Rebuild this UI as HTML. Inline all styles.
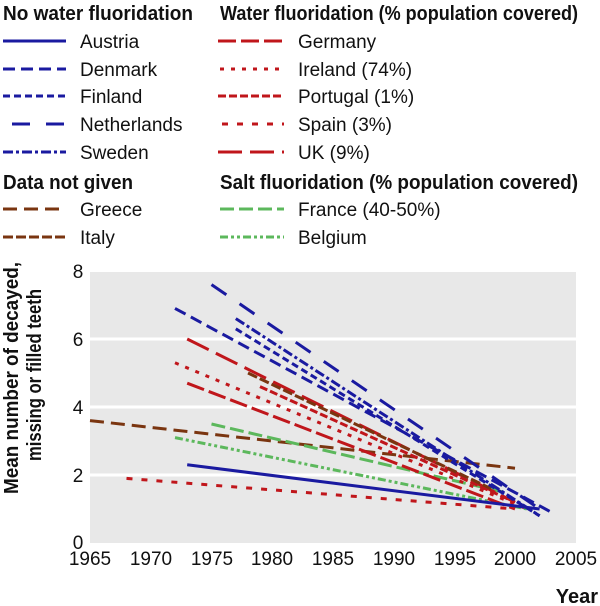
<!DOCTYPE html>
<html><head><meta charset="utf-8"><style>
html,body{margin:0;padding:0;background:#fff;}
svg{display:block;}
text{font-family:"Liberation Sans",sans-serif;fill:#111;}
.h{font-weight:bold;font-size:20px;}
.l{font-size:19px;}
.t{font-size:19px;}
</style></head><body>
<svg width="600" height="606" viewBox="0 0 600 606" xmlns="http://www.w3.org/2000/svg">
<g fill="none" stroke-width="3">
<line x1="3" y1="41" x2="66" y2="41" stroke="#1a1aa0"/>
<line x1="3" y1="69" x2="66" y2="69" stroke="#1a1aa0" stroke-dasharray="12,6"/>
<line x1="3" y1="96" x2="66" y2="96" stroke="#1a1aa0" stroke-dasharray="7,4"/>
<line x1="12" y1="124" x2="66" y2="124" stroke="#1a1aa0" stroke-dasharray="18,16"/>
<line x1="3" y1="152" x2="66" y2="152" stroke="#1a1aa0" stroke-dasharray="10,3,3,3"/>
<line x1="3" y1="209" x2="66" y2="209" stroke="#7a3510" stroke-dasharray="14,7"/>
<line x1="3" y1="237" x2="66" y2="237" stroke="#7a3510" stroke-dasharray="10,3"/>
<line x1="218" y1="41" x2="284" y2="41" stroke="#c0161b" stroke-dasharray="18,5"/>
<line x1="220" y1="69" x2="284" y2="69" stroke="#c0161b" stroke-dasharray="4,7"/>
<line x1="218" y1="96" x2="284" y2="96" stroke="#c0161b" stroke-dasharray="8,3"/>
<line x1="222" y1="124" x2="284" y2="124" stroke="#c0161b" stroke-dasharray="6,9"/>
<line x1="218" y1="152" x2="284" y2="152" stroke="#c0161b" stroke-dasharray="24,8"/>
<line x1="220" y1="209" x2="284" y2="209" stroke="#5cb85c" stroke-dasharray="14,5"/>
<line x1="220" y1="237" x2="284" y2="237" stroke="#5cb85c" stroke-dasharray="8,3,3,3,3,3"/>
</g>
<text class="h" x="3" y="20" textLength="190" lengthAdjust="spacingAndGlyphs">No water fluoridation</text>
<text class="h" x="220" y="20" textLength="358" lengthAdjust="spacingAndGlyphs">Water fluoridation (% population covered)</text>
<text class="h" x="3" y="189" textLength="130" lengthAdjust="spacingAndGlyphs">Data not given</text>
<text class="h" x="220" y="189" textLength="358" lengthAdjust="spacingAndGlyphs">Salt fluoridation (% population covered)</text>
<text class="l" x="80" y="48">Austria</text>
<text class="l" x="80" y="76">Denmark</text>
<text class="l" x="80" y="103">Finland</text>
<text class="l" x="80" y="131">Netherlands</text>
<text class="l" x="80" y="159">Sweden</text>
<text class="l" x="80" y="216">Greece</text>
<text class="l" x="80" y="244">Italy</text>
<text class="l" x="298" y="48">Germany</text>
<text class="l" x="298" y="76">Ireland (74%)</text>
<text class="l" x="298" y="103">Portugal (1%)</text>
<text class="l" x="298" y="131">Spain (3%)</text>
<text class="l" x="298" y="159">UK (9%)</text>
<text class="l" x="298" y="216">France (40-50%)</text>
<text class="l" x="298" y="244">Belgium</text>

<rect x="90" y="272" width="486" height="271" fill="#e8e8e8"/>
<g stroke="#fff" stroke-width="3">
<line x1="90" y1="339" x2="576" y2="339"/>
<line x1="90" y1="407" x2="576" y2="407"/>
<line x1="90" y1="475" x2="576" y2="475"/>
</g>
<g text-anchor="middle">
<text class="t" x="78" y="278">8</text>
<text class="t" x="78" y="346">6</text>
<text class="t" x="78" y="414">4</text>
<text class="t" x="78" y="482">2</text>
<text class="t" x="78" y="549">0</text>
<text class="t" x="90" y="565">1965</text>
<text class="t" x="151" y="565">1970</text>
<text class="t" x="212" y="565">1975</text>
<text class="t" x="272" y="565">1980</text>
<text class="t" x="333" y="565">1985</text>
<text class="t" x="394" y="565">1990</text>
<text class="t" x="455" y="565">1995</text>
<text class="t" x="515" y="565">2000</text>
<text class="t" x="576" y="565">2005</text>
</g>
<text class="h" x="598" y="603" text-anchor="end">Year</text>
<text class="h" x="0" y="0" transform="translate(18,378) rotate(-90)" text-anchor="middle" textLength="232" lengthAdjust="spacingAndGlyphs">Mean number of decayed,</text>
<text class="h" x="0" y="0" transform="translate(41,375) rotate(-90)" text-anchor="middle" textLength="172" lengthAdjust="spacingAndGlyphs">missing or filled teeth</text>

<g fill="none" stroke-width="3">
<line x1="90" y1="420.6" x2="515" y2="468.2" stroke="#7a3510" stroke-dasharray="14,7"/>
<line x1="126.5" y1="478.4" x2="515" y2="509" stroke="#c0161b" stroke-dasharray="6,9"/>
<line x1="175" y1="437.6" x2="527" y2="509" stroke="#5cb85c" stroke-dasharray="8,3,3,3,3,3"/>
<line x1="211.5" y1="424" x2="503" y2="492" stroke="#5cb85c" stroke-dasharray="14,5"/>
<line x1="187.2" y1="383.2" x2="515" y2="509" stroke="#c0161b" stroke-dasharray="18,5"/>
<line x1="175" y1="362.8" x2="527" y2="509" stroke="#c0161b" stroke-dasharray="4,7"/>
<line x1="260" y1="386.6" x2="515" y2="502.2" stroke="#c0161b" stroke-dasharray="8,3"/>
<line x1="187.2" y1="339" x2="515" y2="502.2" stroke="#c0161b" stroke-dasharray="24,8"/>
<line x1="248" y1="373" x2="491" y2="488.6" stroke="#7a3510" stroke-dasharray="10,3"/>
<line x1="187.2" y1="464.8" x2="539.6" y2="509" stroke="#1a1aa0"/>
<line x1="175" y1="308.4" x2="551.7" y2="512.4" stroke="#1a1aa0" stroke-dasharray="12,6"/>
<line x1="235.8" y1="328.8" x2="539.6" y2="515.8" stroke="#1a1aa0" stroke-dasharray="7,4"/>
<line x1="235.8" y1="318.6" x2="539.6" y2="515.8" stroke="#1a1aa0" stroke-dasharray="10,3,3,3"/>
<line x1="211.5" y1="284.6" x2="539.6" y2="509" stroke="#1a1aa0" stroke-dasharray="18,16"/>
</g>
</svg>
</body></html>
